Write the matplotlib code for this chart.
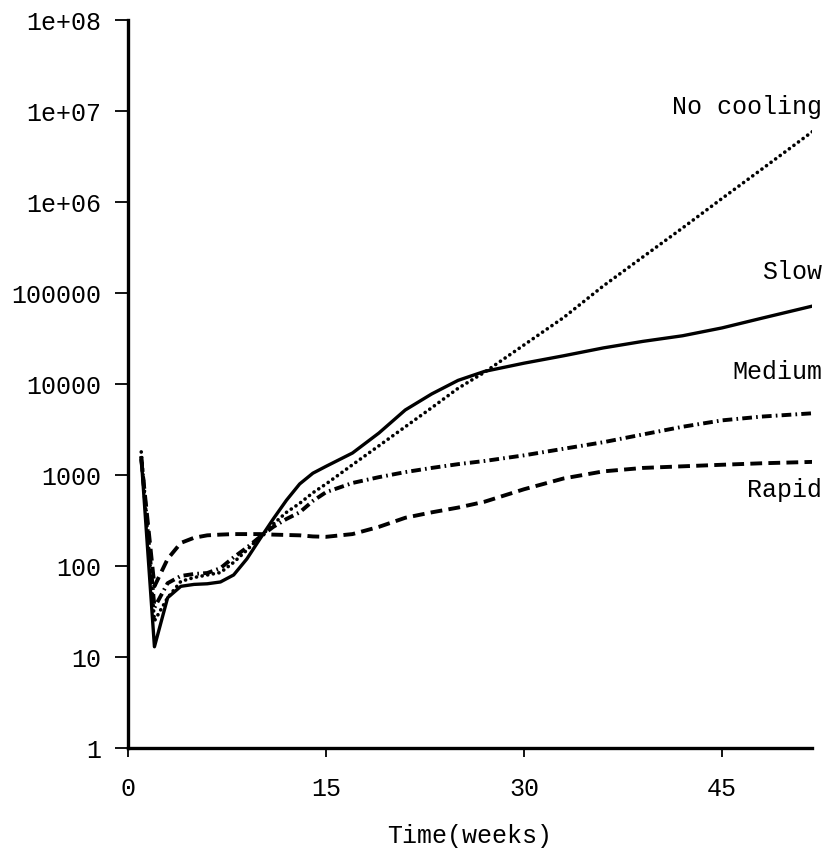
import numpy as np
import matplotlib
matplotlib.use("Agg")
import matplotlib.pyplot as plt

# ---- data ----
weeks = [1, 2, 3, 4, 5, 6, 7, 8, 9, 10, 11, 12, 13, 14, 15, 17, 19, 21, 23,
         25, 27, 30, 33, 36, 39, 42, 45, 48, 52]

slow = [1550, 13, 45, 60, 63, 64, 67, 80, 120, 200, 330, 530, 800, 1050, 1250,
        1750, 2900, 5200, 7800, 11000, 13800, 17000, 20500, 25000, 29500,
        34000, 41500, 53000, 73000]

no_cooling = [1800, 25, 45, 68, 75, 80, 85, 110, 150, 210, 290, 390, 490, 640,
              800, 1300, 2100, 3400, 5500, 9000, 13500, 27000, 54000, 120000,
              250000, 520000, 1100000, 2300000, 6200000]

medium = [1600, 35, 65, 78, 82, 84, 95, 125, 160, 210, 270, 330, 390, 520, 650,
          820, 950, 1080, 1200, 1320, 1430, 1650, 1950, 2300, 2800, 3400, 4000,
          4400, 4800]

rapid = [1500, 60, 120, 180, 205, 218, 222, 225, 225, 225, 222, 220, 218, 212,
         210, 225, 270, 340, 390, 440, 510, 700, 920, 1100, 1200, 1250, 1300,
         1350, 1400]

y_ticks = [1, 10, 100, 1000, 10000, 100000, 1e6, 1e7, 1e8]
y_ticklabels = ["1", "10", "100", "1000", "10000", "100000",
                "1e+06", "1e+07", "1e+08"]
x_ticks = [0, 15, 30, 45]

labels = ["No cooling", "Slow", "Medium", "Rapid"]
label_y = [1.1e7, 1.7e5, 13500, 690]

# ---- plot ----
plt.rcParams["font.family"] = ["Liberation Mono", "DejaVu Sans Mono"]
plt.rcParams["lines.scale_dashes"] = False

fig = plt.figure(figsize=(8.33, 8.56), dpi=100)
ax = fig.add_axes([0.1537, 0.126, 0.821, 0.8505])

ax.plot(weeks, slow, color="black", lw=2.4, solid_joinstyle="round")
ax.plot(weeks, no_cooling, color="black", lw=2.6, dashes=(0.1, 4.0),
        dash_capstyle="round")
ax.plot(weeks, medium, color="black", lw=2.8, dashes=(7, 3, 1.2, 3),
        dash_capstyle="butt")
ax.plot(weeks, rapid, color="black", lw=2.8, dashes=(8.5, 4.5))

ax.set_yscale("log")
ax.set_ylim(1, 1e8)
ax.set_xlim(0, 51.8)
ax.set_yticks(y_ticks)
ax.set_yticklabels(y_ticklabels)
ax.minorticks_off()
ax.set_xticks(x_ticks)

for lab, ly in zip(labels, label_y):
    ax.text(52.6, ly, lab, ha="right", va="center", fontsize=18,
            clip_on=False)

for s in ["top", "right"]:
    ax.spines[s].set_visible(False)
for s in ["left", "bottom"]:
    ax.spines[s].set_linewidth(2.4)

ax.tick_params(axis="y", length=9.5, width=1.3, pad=10, labelsize=18)
ax.tick_params(axis="x", length=6.5, width=1.3, pad=14, labelsize=18)
ax.set_xlabel("Time(weeks)", fontsize=18, labelpad=17)

fig.savefig("out.png", dpi=100)
